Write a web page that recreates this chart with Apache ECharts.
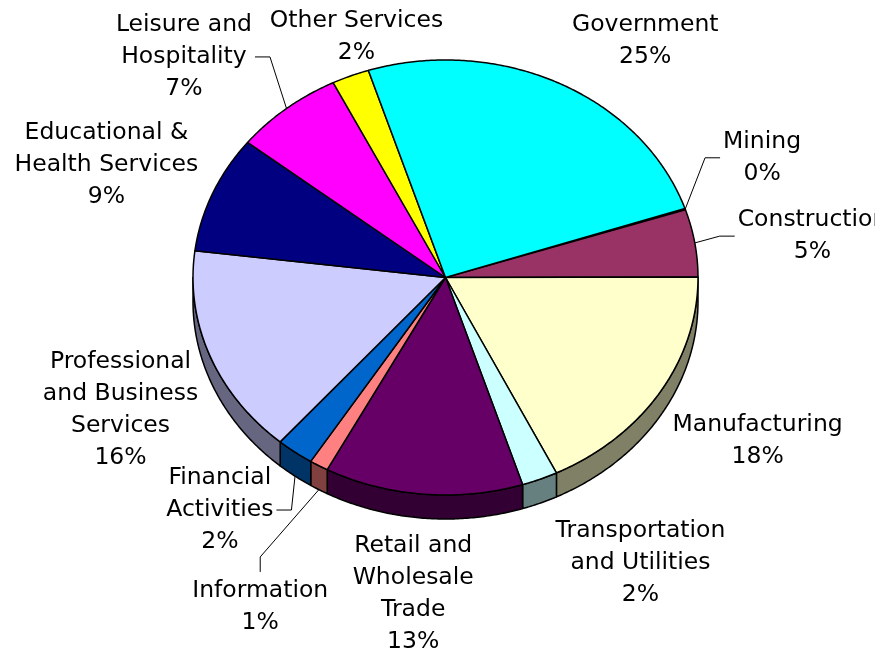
<!DOCTYPE html>
<html lang="en">
<head>
<meta charset="UTF-8">
<title>Employment by Sector</title>
<script src="https://cdn.jsdelivr.net/npm/echarts@6/dist/echarts.min.js"></script>
<style>
    html, body { margin: 0; padding: 0; background: #fff; }
    #chart { width: 875px; height: 649px; }
</style>
</head>
<body>
<div id="chart"></div>
<script>
    // data (clockwise, starting at Mining)
    var sectors = ['Mining', 'Construction', 'Manufacturing', 'Transportation\nand Utilities',
        'Retail and\nWholesale\nTrade', 'Information', 'Financial\nActivities',
        'Professional\nand Business\nServices', 'Educational &\nHealth Services',
        'Leisure and\nHospitality', 'Other Services', 'Government'];
    var shares = [0.1, 5.0, 17.8, 2.3, 12.7, 1.2, 2.4, 15.6, 8.7, 7.0, 2.4, 24.8];
    var colors = ['#9999FF', '#993366', '#FFFFCC', '#CCFFFF', '#660066', '#FF8080',
        '#0066CC', '#CCCCFF', '#000080', '#FF00FF', '#FFFF00', '#00FFFF'];
    var withLeader = ['Mining', 'Construction', 'Information', 'Financial\nActivities', 'Leisure and\nHospitality'];

    // layout of the tilted pie
    var cx = 445.5, cy = 277.5, rx = 252.5, ry = 217.5, depth = 24, startAngle = 71.5;
    var labelFont = '23.5px "DejaVu Sans"', lineH = 32;
    // excel moved some labels around, nudge them the same way
    var labelNudge = [[-19, -24], [18, 7], [12, -22], [63, -21], [-1, -11], [-8, 42],
        [-15, -36], [5, -1], [-13, 5], [-39, 16], [44, 42], [40, 35]];

    var total = shares.reduce(function (a, b) { return a + b; }, 0);
    var angles = [];
    var acc = startAngle;
    shares.forEach(function (v) {
        var span = v / total * 360;
        angles.push([acc, acc + span]);
        acc += span;
    });

    var ctx = document.createElement('canvas').getContext('2d');
    ctx.font = labelFont;

    function darker(hex) {
        var n = parseInt(hex.slice(1), 16);
        var r = (n >> 16) & 255, g = (n >> 8) & 255, b = n & 255;
        return 'rgb(' + Math.round(r / 2) + ',' + Math.round(g / 2) + ',' + Math.round(b / 2) + ')';
    }
    function pt(deg, k, dy) {
        var r = deg * Math.PI / 180;
        return [cx + rx * k * Math.sin(r), cy - ry * k * Math.cos(r) + (dy || 0)];
    }
    function arc(a, b, dy) {
        var pts = [];
        var n = Math.max(2, Math.ceil((b - a) / 0.5));
        for (var i = 0; i <= n; i++) pts.push(pt(a + (b - a) * i / n, 1, dy));
        return pts;
    }
    function isFront(deg) {
        var d = ((deg % 360) + 360) % 360;
        return d > 90 && d < 270;
    }

    function renderItem(params, api) {
        var i = params.dataIndex;
        var a = angles[i][0], b = angles[i][1];
        var children = [];

        // side wall, only the part facing us
        [[90, 270], [450, 630]].forEach(function (w) {
            var s = Math.max(a, w[0]), e = Math.min(b, w[1]);
            if (e > s) {
                var pts = arc(s, e, 0).concat(arc(s, e, depth).reverse());
                children.push({
                    type: 'polygon', shape: { points: pts },
                    style: { fill: darker(colors[i]), stroke: '#000', lineWidth: 1.5, lineJoin: 'round' }
                });
            }
        });

        // top face
        children.push({
            type: 'polygon', shape: { points: [[cx, cy]].concat(arc(a, b, 0)) },
            style: { fill: colors[i], stroke: '#000', lineWidth: 1.5, lineJoin: 'round' }
        });

        // label
        var m = (a + b) / 2;
        var front = isFront(m);
        var c = pt(m, 1.4, front ? depth : 0);
        c[0] += labelNudge[i][0];
        c[1] += labelNudge[i][1];
        var text = sectors[i] + '\n' + Math.round(shares[i] / total * 100) + '%';
        var lines = text.split('\n');
        var w = Math.max.apply(null, lines.map(function (l) { return ctx.measureText(l).width; }));
        var h = lines.length * lineH;
        children.push({
            type: 'text',
            style: {
                text: text, x: c[0], y: c[1], align: 'center', verticalAlign: 'middle',
                font: labelFont, fill: '#000', lineHeight: lineH
            }
        });

        if (withLeader.indexOf(sectors[i]) >= 0) {
            var p0 = pt(m, 1, front ? depth : 0);
            var dx = c[0] - p0[0], dy = c[1] - p0[1];
            var p1, p2;
            if (Math.abs(dx) > w / 2) {
                var sx = dx > 0 ? 1 : -1;
                p2 = [c[0] - sx * (w / 2 + 3), c[1]];
                p1 = [p2[0] - sx * 15, p2[1]];
            } else {
                var sy = dy > 0 ? 1 : -1;
                p2 = [c[0], c[1] - sy * (h / 2 + 3)];
                p1 = [p2[0], p2[1] - sy * 15];
            }
            children.push({
                type: 'polyline', shape: { points: [p0, p1, p2] },
                style: { stroke: '#000', lineWidth: 1, fill: null }
            });
        }

        return { type: 'group', children: children };
    }

    var myChart = echarts.init(document.getElementById('chart'));
    var option = {
        animation: false,
        backgroundColor: '#fff',
        series: [{
            type: 'custom',
            coordinateSystem: 'none',
            silent: true,
            renderItem: renderItem,
            data: shares.map(function (v, i) { return { name: sectors[i], value: [v] }; })
        }]
    };
    myChart.setOption(option);
</script>
</body>
</html>
